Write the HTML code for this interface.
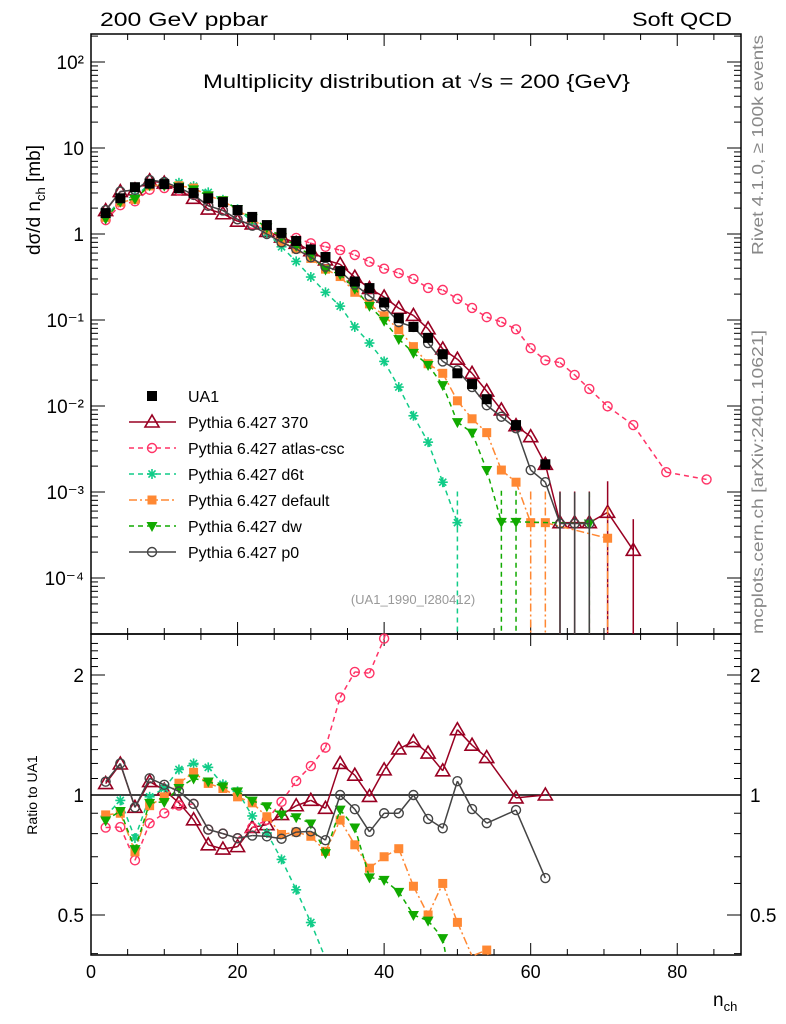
<!DOCTYPE html>
<html><head><meta charset="utf-8"><style>
html,body{margin:0;background:#fff;overflow:hidden;width:786px;height:1024px;}
svg{display:block;}
svg text{font-family:"Liberation Sans",sans-serif;}
</style></head><body>
<svg id="c" width="786" height="1024" viewBox="0 0 786 1024" xmlns="http://www.w3.org/2000/svg">
<text x="100" y="26" font-size="19" textLength="168" lengthAdjust="spacingAndGlyphs">200 GeV ppbar</text>
<text x="732" y="26" font-size="19" text-anchor="end" textLength="100" lengthAdjust="spacingAndGlyphs">Soft QCD</text>
<text x="203" y="88" font-size="19" textLength="427" lengthAdjust="spacingAndGlyphs">Multiplicity distribution at √s = 200 {GeV}</text>
<text transform="translate(40,200) rotate(-90)" font-size="19" text-anchor="middle">dσ/d n<tspan font-size="13" dy="5">ch</tspan><tspan dy="-5"> [mb]</tspan></text>
<text transform="translate(37,795) rotate(-90)" font-size="14" text-anchor="middle">Ratio to UA1</text>
<text transform="translate(763,255) rotate(-90)" font-size="16" fill="#888" textLength="220" lengthAdjust="spacingAndGlyphs">Rivet 4.1.0, ≥ 100k events</text>
<text transform="translate(763,634) rotate(-90)" font-size="16" fill="#888" textLength="304" lengthAdjust="spacingAndGlyphs">mcplots.cern.ch [arXiv:2401.10621]</text>
<text x="413" y="604" font-size="13" fill="#999" text-anchor="middle">(UA1_1990_I280412)</text>
<text x="713" y="1006" font-size="19">n<tspan font-size="13" dy="5">ch</tspan></text>
<g id="plot"></g>
</svg>
<script>
const ua1N=[2,4,6,8,10,12,14,16,18,20,22,24,26,28,30,32,34,36,38,40,42,44,46,48,50,52,54,58,62];
const ua1V=[1.75,2.6,3.5,3.85,3.8,3.4,3.0,2.6,2.35,1.9,1.58,1.27,1.03,0.83,0.66,0.54,0.37,0.28,0.235,0.16,0.105,0.083,0.062,0.04,0.024,0.018,0.012,0.006,0.0021];
const n370=[2,4,6,8,10,12,14,16,18,20,22,24,26,28,30,32,34,36,38,40,42,44,46,48,50,52,54,56,58,60,62,64,66,68,70.5,74];
const v370=[1.87,3.11,3.26,4.16,3.91,3.25,2.6,1.95,1.72,1.41,1.31,1.07,0.92,0.78,0.64,0.5,0.444,0.314,0.233,0.185,0.137,0.113,0.079,0.046,0.035,0.024,0.0149,0.009,0.0059,0.0044,0.0021,0.00044,0.00044,0.00044,0.00058,0.00021];
const nAtlas=[2,4,6,8,10,12,14,16,18,20,22,24,26,28,30,32,34,36,38,40,42,44,46,48,50,52,54,56,58,60,62,64,66,68,70.5,74,78.5,84];
const vAtlas=[1.45,2.16,2.4,3.27,3.42,3.2,2.85,2.13,1.88,1.48,1.31,1.1,0.99,0.9,0.78,0.71,0.65,0.57,0.475,0.395,0.35,0.3,0.236,0.224,0.176,0.138,0.108,0.095,0.078,0.047,0.034,0.032,0.023,0.0158,0.0099,0.006,0.0017,0.0014];
const nD6t=[2,4,6,8,10,12,14,16,18,20,22,24,26,28,30,32,34,36,38,40,42,44,46,48,50];
const vD6t=[1.55,2.52,2.73,3.81,3.95,3.94,3.6,3.05,2.5,1.94,1.4,1.02,0.71,0.48,0.316,0.21,0.145,0.083,0.054,0.033,0.0166,0.0077,0.0038,0.0013,0.00044];
const nDef=[2,4,6,8,10,12,14,16,18,20,22,24,26,28,30,32,34,36,38,40,42,44,46,48,50,52,54,56,58,60,62,70.5];
const vDef=[1.56,2.34,2.52,3.62,3.76,3.64,3.42,2.78,2.44,1.88,1.51,1.12,0.82,0.67,0.52,0.39,0.32,0.21,0.154,0.112,0.077,0.049,0.031,0.024,0.0115,0.0071,0.0049,0.0018,0.0013,0.00044,0.00044,0.00029];
const nDw=[2,4,6,8,10,12,14,16,18,20,22,24,26,28,30,32,34,36,38,40,42,44,46,48,50,52,54,56,58,68];
const vDw=[1.51,2.37,2.56,3.68,3.65,3.54,3.3,2.81,2.47,1.94,1.53,1.19,0.92,0.73,0.56,0.386,0.34,0.232,0.146,0.098,0.06,0.0415,0.03,0.0175,0.0065,0.0049,0.0018,0.00045,0.00045,0.00043];
const nP0=[2,4,6,8,10,12,14,16,18,20,22,24,26,28,30,32,34,36,38,40,42,44,46,48,50,52,54,56,58,60,62,64,66,68];
const vP0=[1.89,3.12,3.26,4.24,4.03,3.47,2.85,2.13,1.88,1.48,1.25,1.0,0.8,0.67,0.535,0.416,0.37,0.258,0.19,0.144,0.0945,0.083,0.054,0.033,0.026,0.0166,0.0102,0.0075,0.0055,0.0018,0.0013,0.00043,0.00043,0.00043];
const xTicks=[0,20,40,60,80];
const yTickExp=[-4,-3,-2,-1,0,1,2];
const yTickLbl=["10⁻⁴","10⁻³","10⁻²","10⁻¹","1","10","10²"];
const rTicks=[0.5,1,2];

const NS="http://www.w3.org/2000/svg";
const L=91,R=741,T=34,M=634,B=955;
const xs=n=>L+n*(R-L)/88.7;
const ys=v=>234-86*Math.log10(v);
const yr=r=>795-120*Math.log2(r);
const g=document.getElementById('plot');
function el(t,a,p){const e=document.createElementNS(NS,t);for(const k in a)e.setAttribute(k,a[k]);(p||g).appendChild(e);return e;}
function clipSeg(x1,y1,x2,y2,a,b){ // clip segment to y in [a,b]
 let t0=0,t1=1;const dy=y2-y1;
 if(dy===0){if(y1<a||y1>b)return null;return [x1,y1,x2,y2];}
 const ta=(a-y1)/dy,tb=(b-y1)/dy;const lo=Math.min(ta,tb),hi=Math.max(ta,tb);
 t0=Math.max(t0,lo);t1=Math.min(t1,hi);if(t0>t1)return null;
 return [x1+(x2-x1)*t0,y1+dy*t0,x1+(x2-x1)*t1,y1+dy*t1];}
function drawLine(p,pts,a,b,c,dash){for(let i=1;i<pts.length;i++){const s=clipSeg(pts[i-1][0],pts[i-1][1],pts[i][0],pts[i][1],a,b);
 if(s)el('line',{x1:s[0],y1:s[1],x2:s[2],y2:s[3],stroke:c,'stroke-width':1.5,'stroke-dasharray':dash},p);}}
const f1=el('rect',{x:L,y:T,width:R-L,height:M-T,fill:'none',stroke:'#000','stroke-width':1.5});


const f2=el('rect',{x:L,y:M,width:R-L,height:B-M,fill:'none',stroke:'#000','stroke-width':1.5});


for(let n=0;n<=88;n+=5){const big=n%20===0;const h=big?12:6;const x=xs(n);
 [[T,1],[M,-1],[M,1],[B,-1]].forEach(([y,s])=>el('line',{x1:x,x2:x,y1:y,y2:y+s*h,stroke:'#000'}));}
xTicks.forEach(n=>{const t=el('text',{x:xs(n),y:978,'font-size':18,'text-anchor':'middle'});t.textContent=n;

});
for(let e=-5;e<=2;e++){for(let m=1;m<10;m++){const v=m*Math.pow(10,e);const y=ys(v);if(y<T||y>M)continue;const h=m===1?14:7;
 el('line',{x1:L,x2:L+h,y1:y,y2:y,stroke:'#000'});el('line',{x1:R,x2:R-h,y1:y,y2:y,stroke:'#000'});}}
yTickExp.forEach((e,i)=>{const t=el('text',{x:84,y:ys(Math.pow(10,e))+7,'font-size':19,'text-anchor':'end'});t.textContent=yTickLbl[i];

});
for(let r=0.4;r<=2.5;r+=0.1){const y=yr(r);if(y<M||y>B)continue;const big=[0.5,1,2].some(q=>Math.abs(q-r)<1e-6);const h=big?14:7;
 el('line',{x1:L,x2:L+h,y1:y,y2:y,stroke:'#000'});el('line',{x1:R,x2:R-h,y1:y,y2:y,stroke:'#000'});}
rTicks.forEach(r=>{[[84,'end'],[750,'start']].forEach(([x,a])=>{const t=el('text',{x:x,y:yr(r)+7,'font-size':19,'text-anchor':a});t.textContent=r;

});});
const one=el('line',{x1:L,x2:R,y1:yr(1),y2:yr(1),stroke:'#000','stroke-width':1.5});


function marker(p,k,x,y,c){
 if(k==='sq')el('rect',{x:x-5,y:y-5,width:10,height:10,fill:c},p);
 else if(k==='fsq')el('rect',{x:x-4.5,y:y-4.5,width:9,height:9,fill:c},p);
 else if(k==='tri')el('polygon',{points:`${x},${y-7} ${x-7},${y+5} ${x+7},${y+5}`,fill:'#fff','fill-opacity':0,stroke:c,'stroke-width':1.6},p);
 else if(k==='dtri')el('polygon',{points:`${x},${y+6} ${x-5.5},${y-4} ${x+5.5},${y-4}`,fill:c},p);
 else if(k==='circ')el('circle',{cx:x,cy:y,r:4.5,fill:'none',stroke:c,'stroke-width':1.4},p);
 else if(k==='star'){for(let a=0;a<4;a++){const t=a*Math.PI/4;el('line',{x1:x-5*Math.cos(t),y1:y-5*Math.sin(t),x2:x+5*Math.cos(t),y2:y+5*Math.sin(t),stroke:c,'stroke-width':1.6},p);}}
}
const uMap={};ua1N.forEach((n,i)=>uMap[n]=ua1V[i]);
const series=[
 {name:'370',N:n370,V:v370,c:'#990022',dash:'',m:'tri'},
 {name:'atlas-csc',N:nAtlas,V:vAtlas,c:'#ff3366',dash:'5,4',m:'circ'},
 {name:'d6t',N:nD6t,V:vD6t,c:'#11cc88',dash:'5,4',m:'star'},
 {name:'default',N:nDef,V:vDef,c:'#ff8833',dash:'8,3,2,3',m:'fsq'},
 {name:'dw',N:nDw,V:vDw,c:'#11aa00',dash:'5,4',m:'dtri'},
 {name:'p0',N:nP0,V:vP0,c:'#444444',dash:'',m:'circ'}];
series.forEach(s=>{
 const gm=el('g',{});
 
 
 drawLine(gm,s.N.map((n,i)=>[xs(n),ys(s.V[i])]),T,M,s.c,s.dash);
 s.N.forEach((n,i)=>{const x=xs(n),y=ys(s.V[i]);
  if(y<T||y>M)return;
  if(s.V[i]<0.0006){el('line',{x1:x,x2:x,y1:ys(s.V[i]*2.3),y2:M,stroke:s.c,'stroke-width':1.5,'stroke-dasharray':s.dash},gm);}
  marker(gm,s.m,x,y,s.c);});
 const gr=el('g',{});
 
 
 const pts=[];s.N.forEach((n,i)=>{if(uMap[n])pts.push([xs(n),yr(s.V[i]/uMap[n])]);});
 drawLine(gr,pts,M,B,s.c,s.dash);
 pts.forEach(p=>{if(p[1]>=M+4&&p[1]<=B-4)marker(gr,s.m,p[0],p[1],s.c);});
});
const gu=el('g',{});


ua1N.forEach((n,i)=>marker(gu,'sq',xs(n),ys(ua1V[i]),'#000'));
const leg=[['UA1','#000','','sq',false],['Pythia 6.427 370','#990022','','tri',true],['Pythia 6.427 atlas-csc','#ff3366','5,4','circ',true],['Pythia 6.427 d6t','#11cc88','5,4','star',true],['Pythia 6.427 default','#ff8833','8,3,2,3','fsq',true],['Pythia 6.427 dw','#11aa00','5,4','dtri',true],['Pythia 6.427 p0','#444444','','circ',true]];
leg.forEach((e,i)=>{const y=396+i*26;const lg=el('g',{});
 
 
 if(e[4])el('line',{x1:129,x2:176,y1:y,y2:y,stroke:e[1],'stroke-width':1.5,'stroke-dasharray':e[2]},lg);
 marker(lg,e[3],152,y,e[1]);
 const t=el('text',{x:188,y:y+6,'font-size':16},lg);t.textContent=e[0];});
</script>
</body></html>
